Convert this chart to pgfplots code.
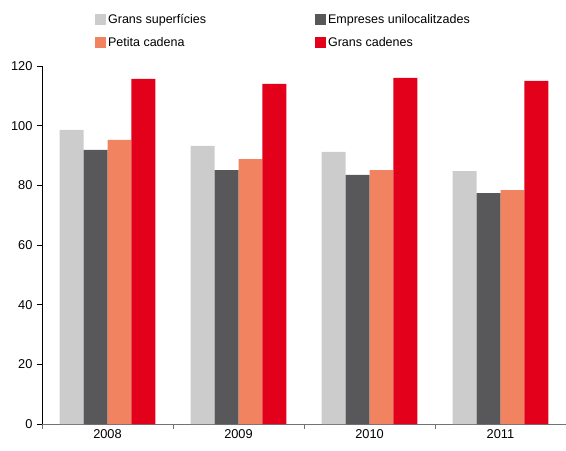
\documentclass[border=0pt]{standalone}
\usepackage{fontspec}
\setmainfont{Liberation Sans}
\usepackage{pgfplots}
\pgfplotsset{compat=1.18}
\definecolor{cA}{HTML}{CCCCCC}
\definecolor{cB}{HTML}{58585A}
\definecolor{cC}{HTML}{F28360}
\definecolor{cD}{HTML}{E2001A}
\begin{document}
\begin{tikzpicture}
\begin{axis}[
  name=ax,
  scale only axis,
  width=524pt, height=358pt,
  xmin=-0.5, xmax=3.5,
  ymin=0, ymax=120,
  ytick={0,20,...,120},
  xtick={-0.5,0.5,1.5,2.5,3.5},
  xticklabels={},
  extra x ticks={0,1,2,3},
  extra x tick labels={2008,2009,2010,2011},
  extra x tick style={major tick length=0pt},
  axis x line*=bottom,
  axis y line*=left,
  x axis line style={-, draw=gray!90!black, line width=0.8pt},
  y axis line style={-, draw=black, line width=0.8pt},
  tick align=outside,
  major tick length=5pt,
  x tick style={draw=gray!90!black, line width=0.8pt},
  y tick style={draw=black, line width=0.8pt},
  ticklabel style={font=\fontsize{12.8}{14}\selectfont},
  /pgf/number format/assume math mode=true,
  yticklabel style={xshift=-1pt},
  xticklabel style={yshift=-2pt},
  ybar, bar width=0.183,
  legend columns=2,
  legend cell align=left,
  legend style={draw=none, fill=none, inner sep=0pt, at={(axis description cs:0.101,1.15)}, anchor=north west,
    font=\fontsize{12.5}{14}\selectfont, row sep=8pt,
    /tikz/column 2/.style={column sep=107pt}},
  legend image code/.code={\fill[#1] (0pt,-5.5pt) rectangle (11pt,5.5pt);},
]
\addplot[fill=cA, draw=none, bar shift=-0.2745] coordinates {(0,98.6) (1,93.2) (2,91.2) (3,84.8)};
\addplot[fill=cB, draw=none, bar shift=-0.0915] coordinates {(0,91.9) (1,85.1) (2,83.5) (3,77.4)};
\addplot[fill=cC, draw=none, bar shift=0.0915] coordinates {(0,95.2) (1,88.8) (2,85.1) (3,78.4)};
\addplot[fill=cD, draw=none, bar shift=0.2745] coordinates {(0,115.7) (1,114.0) (2,116.0) (3,115.0)};
\legend{Grans superfícies, Empreses unilocalitzades, Petita cadena, Grans cadenes}
\end{axis}
\pgfresetboundingbox
\path ([xshift=-42pt,yshift=-26pt]ax.south west) rectangle ([yshift=66pt]ax.north east);
\end{tikzpicture}
\end{document}
